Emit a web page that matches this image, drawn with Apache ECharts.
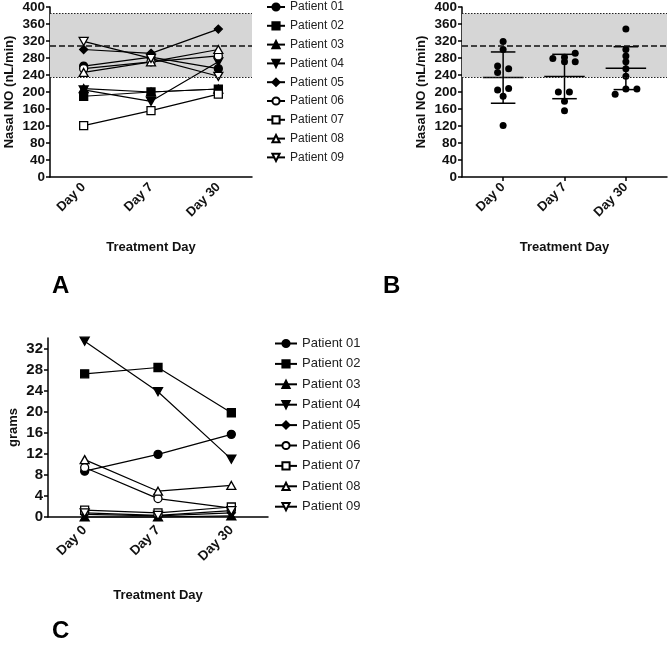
<!DOCTYPE html>
<html>
<head>
<meta charset="utf-8">
<script src="https://cdn.jsdelivr.net/npm/echarts@6/dist/echarts.min.js"></script>
<style>
  html, body { margin: 0; padding: 0; background: #fff; }
  #chart { width: 669px; height: 648px; }
</style>
</head>
<body>
<div id="chart"></div>
<script>
let days = ['Day 0', 'Day 7', 'Day 30'];
let patients = ['Patient 01', 'Patient 02', 'Patient 03', 'Patient 04', 'Patient 05',
                'Patient 06', 'Patient 07', 'Patient 08', 'Patient 09'];

// nasal NO (nL/min) per patient : Day 0, Day 7, Day 30
let no01 = [261, 282, 255];
let no02 = [190, 200, 207];
let no03 = [208, 200, 207];
let no04 = [205, 178, 271];
let no05 = [300, 291, 348];
let no06 = [255, 271, 285];
let no07 = [121, 156, 195];
let no08 = [246, 271, 300];
let no09 = [319, 279, 237];
let nasalNO = [no01, no02, no03, no04, no05, no06, no07, no08, no09];

// grams per patient : Day 0, Day 7, Day 30
let g01 = [8.7, 11.9, 15.7];
let g02 = [27.2, 28.4, 19.8];
let g03 = [0, 0, 0.2];
let g04 = [33.4, 23.8, 11.0];
let g05 = [0.5, 0.2, 0.8];
let g06 = [9.4, 3.5, 1.7];
let g07 = [1.3, 0.8, 1.9];
let g08 = [10.9, 4.9, 6.0];
let g09 = [0.8, 0.3, 1.2];
let grams = [g01, g02, g03, g04, g05, g06, g07, g08, g09];

// horizontal scatter offsets in panel B (patient order), per day
let jitter0 = [-0.09, 0, 0.09, -0.09, 0, 0.09, 0, -0.09, 0];
let jitter7 = [0, -0.1, 0.08, 0, 0.175, 0, 0, 0.175, -0.19];
let jitter30 = [0, 0, 0.18, 0, 0, 0, -0.175, 0, 0];
let jitters = [jitter0, jitter7, jitter30];

// normal range band (nL/min)
let normalLow = 235;
let normalMean = 310;
let normalHigh = 385;

let noTicks = [0, 40, 80, 120, 160, 200, 240, 280, 320, 360, 400];
let gramTicks = [0, 4, 8, 12, 16, 20, 24, 28, 32];

// -- styles --
let font = "'Liberation Sans', Arial, sans-serif";
let invTri = 'path://M0,0 L10,0 L5,9 Z';
let symbols = ['circle', 'rect', 'triangle', invTri, 'diamond', 'circle', 'rect', 'triangle', invTri];
let symbolSizes = [8, 8, [9, 8], [9, 8], 8, 8, 8, [9, 8], [9, 8]];
let filled = [true, true, true, true, true, false, false, false, false];

function yAxisBase(idx, name, ticks, max, fs, nameGap) {
  return {
    type: 'value', gridIndex: idx, min: 0, max: max,
    name: name, nameLocation: 'middle', nameGap: nameGap,
    nameTextStyle: {fontFamily: font, fontWeight: 'bold', fontSize: 13, color: '#111'},
    axisLine: {show: true, onZero: false, lineStyle: {color: '#000', width: 1.5}},
    axisTick: {show: true, length: 4, lineStyle: {color: '#000', width: 1.5}, customValues: ticks},
    axisLabel: {fontFamily: font, fontWeight: 'bold', fontSize: fs, color: '#111', margin: 5, customValues: ticks},
    splitLine: {show: false}
  };
}

function xAxisCat(idx, nameGap, fs, margin) {
  return {
    type: 'category', gridIndex: idx, data: days, boundaryGap: true,
    name: 'Treatment Day', nameLocation: 'middle', nameGap: nameGap,
    nameTextStyle: {fontFamily: font, fontWeight: 'bold', fontSize: 13, color: '#111'},
    axisLine: {onZero: false, lineStyle: {color: '#000', width: 1.5}},
    axisTick: {alignWithLabel: true, length: 4, lineStyle: {color: '#000', width: 1.5}},
    axisLabel: {rotate: 45, fontFamily: font, fontWeight: 'bold', fontSize: fs, color: '#111', margin: margin, interval: 0}
  };
}

function bandMarks() {
  return {
    markArea: {
      silent: true,
      itemStyle: {color: '#d6d6d6'},
      data: [[{yAxis: normalLow}, {yAxis: normalHigh}]]
    },
    markLine: {
      silent: true, symbol: 'none', label: {show: false},
      data: [
        {yAxis: normalLow, lineStyle: {type: [1.5, 1.5], color: '#222', width: 1.2}},
        {yAxis: normalHigh, lineStyle: {type: [1.5, 1.5], color: '#222', width: 1.2}},
        {yAxis: normalMean, lineStyle: {type: [6, 3], color: '#111', width: 1.5}}
      ]
    }
  };
}

function patientSeries(values, gridIdx, i) {
  return {
    name: patients[i], type: 'line',
    xAxisIndex: gridIdx, yAxisIndex: gridIdx,
    data: values,
    symbol: symbols[i], symbolSize: symbolSizes[i],
    showAllSymbol: true, clip: false,
    lineStyle: {color: '#000', width: 1.2},
    itemStyle: {color: filled[i] ? '#000' : '#fff', borderColor: '#000', borderWidth: 1.3},
    emphasis: {disabled: true},
    z: 3
  };
}

let series = [];
nasalNO.forEach(function (values, i) {
  let s = patientSeries(values, 0, i);
  if (i === 0) Object.assign(s, bandMarks());
  series.push(s);
});
grams.forEach(function (values, i) {
  series.push(patientSeries(values, 2, i));
});

// panel B : points, mean and SD
let scatterData = [];
let statData = [];
days.forEach(function (d, k) {
  let vals = nasalNO.map(function (p) { return p[k]; });
  vals.forEach(function (v, i) {
    scatterData.push([k + jitters[k][i], v]);
  });
  let mean = vals.reduce(function (a, b) { return a + b; }, 0) / vals.length;
  let sq = vals.reduce(function (a, b) { return a + (b - mean) * (b - mean); }, 0);
  let sd = Math.sqrt(sq / (vals.length - 1));
  statData.push([k, mean, sd]);
});

let scatterB = {
  name: 'Nasal NO', type: 'scatter', xAxisIndex: 1, yAxisIndex: 1,
  data: scatterData, symbol: 'circle', symbolSize: 7,
  itemStyle: {color: '#000', opacity: 1}, z: 3
};
Object.assign(scatterB, bandMarks());
series.push(scatterB);

series.push({
  name: 'Mean SD', type: 'custom', xAxisIndex: 1, yAxisIndex: 1,
  data: statData, z: 4,
  renderItem: function (params, api) {
    let x = api.value(0), m = api.value(1), s = api.value(2);
    let unit = api.size([1, 0])[0];
    let c = api.coord([x, m]);
    let top = api.coord([x, m + s]);
    let bot = api.coord([x, m - s]);
    let hw = unit * 0.33, cw = unit * 0.2;
    let st = {stroke: '#000', lineWidth: 1.5};
    return {
      type: 'group',
      children: [
        {type: 'line', shape: {x1: c[0] - hw, y1: c[1], x2: c[0] + hw, y2: c[1]}, style: st},
        {type: 'line', shape: {x1: top[0], y1: top[1], x2: bot[0], y2: bot[1]}, style: st},
        {type: 'line', shape: {x1: top[0] - cw, y1: top[1], x2: top[0] + cw, y2: top[1]}, style: st},
        {type: 'line', shape: {x1: bot[0] - cw, y1: bot[1], x2: bot[0] + cw, y2: bot[1]}, style: st}
      ]
    };
  }
});

let legendBase = {
  orient: 'vertical', data: patients, selectedMode: false, padding: 0,
  itemWidth: 18, itemHeight: 9, itemGap: 6.8,
  textStyle: {fontFamily: font, fontSize: 12, color: '#222'}
};

let option = {
  animation: false,
  grid: [
    {left: 50, top: 6, width: 202, height: 171},
    {left: 462, top: 6, width: 205, height: 171},
    {left: 48, top: 338, width: 220, height: 179}
  ],
  xAxis: [
    xAxisCat(0, 64, 13, 8),
    {
      type: 'value', gridIndex: 1, min: -0.67, max: 2.67,
      name: 'Treatment Day', nameLocation: 'middle', nameGap: 64,
      nameTextStyle: {fontFamily: font, fontWeight: 'bold', fontSize: 13, color: '#111'},
      axisLine: {onZero: false, lineStyle: {color: '#000', width: 1.5}},
      axisTick: {length: 4, lineStyle: {color: '#000', width: 1.5}, customValues: [0, 1, 2]},
      axisLabel: {
        rotate: 45, fontFamily: font, fontWeight: 'bold', fontSize: 13, color: '#111', margin: 8,
        customValues: [0, 1, 2],
        formatter: function (v) { return days[Math.round(v)]; }
      },
      splitLine: {show: false}
    },
    xAxisCat(2, 72, 13.5, 11)
  ],
  yAxis: [
    yAxisBase(0, 'Nasal NO (nL/min)', noTicks, 400, 13.5, 34),
    yAxisBase(1, 'Nasal NO (nL/min)', noTicks, 400, 13.5, 34),
    yAxisBase(2, 'grams', gramTicks, 34, 15, 28)
  ],
  legend: [
    Object.assign({}, legendBase, {left: 266, top: 1}),
    Object.assign({}, legendBase, {left: 274, top: 337, itemWidth: 22, itemGap: 7.4,
      textStyle: {fontFamily: font, fontSize: 13, color: '#222'}})
  ],
  graphic: [
    {type: 'text', left: 52, top: 274, style: {text: 'A', font: 'bold 24px ' + font, fill: '#000'}},
    {type: 'text', left: 383, top: 274, style: {text: 'B', font: 'bold 24px ' + font, fill: '#000'}},
    {type: 'text', left: 52, top: 619, style: {text: 'C', font: 'bold 24px ' + font, fill: '#000'}}
  ],
  series: series
};

let myChart = echarts.init(document.getElementById('chart'), null, {renderer: 'canvas'});
myChart.setOption(option);
</script>
</body>
</html>
